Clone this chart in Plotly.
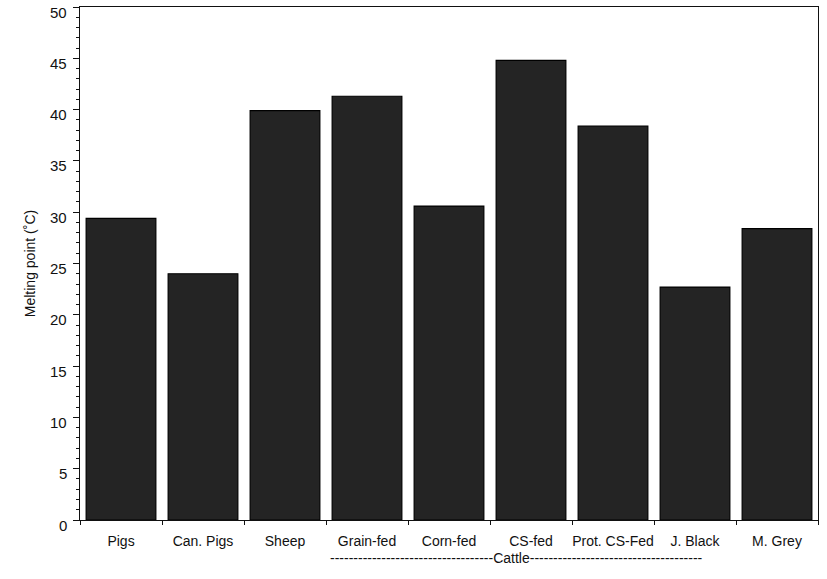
import plotly.graph_objects as go

categories = ["Pigs", "Can. Pigs", "Sheep", "Grain-fed", "Corn-fed", "CS-fed",
              "Prot. CS-Fed", "J. Black", "M. Grey"]
melting_point = [29.4, 24.0, 39.9, 41.3, 30.6, 44.8, 38.4, 22.7, 28.4]
y_ticks = [0, 5, 10, 15, 20, 25, 30, 35, 40, 45, 50]
group_label = "-" * 35 + "Cattle" + "-" * 37

fig = go.Figure()
fig.add_trace(go.Bar(
    x=categories, y=melting_point,
    marker=dict(color="#242424", line=dict(color="#000000", width=1.2)),
))

font = "Liberation Sans, Arial, sans-serif"
annotations = [dict(
    text=group_label, x=4.75, y=-0.074, xref="x", yref="paper", xshift=6,
    showarrow=False, font=dict(size=14, family=font), xanchor="center", yanchor="middle",
)]
for v in y_ticks:
    annotations.append(dict(
        text=str(v), x=0, y=v, xref="paper", yref="y", xshift=-11, yshift=-5,
        showarrow=False, font=dict(size=15, family=font),
        xanchor="right", yanchor="middle",
    ))

fig.update_layout(
    width=827, height=579,
    margin=dict(l=80, r=9, t=7, b=59, autoexpand=False),
    paper_bgcolor="white", plot_bgcolor="white",
    bargap=0.15, showlegend=False,
    font=dict(family=font, color="#111111", size=14),
    xaxis=dict(
        type="category", tickson="boundaries", ticks="outside", ticklen=4,
        tickangle=0, automargin=False, ticklabelstandoff=8,
        tickcolor="#111", showline=True, linecolor="#111", linewidth=1.2,
        mirror=True, showgrid=False, tickfont=dict(size=14, family=font),
    ),
    yaxis=dict(
        range=[0, 50], tickmode="array", tickvals=y_ticks, automargin=False,
        ticks="outside", ticklen=6, tickcolor="#111", showticklabels=False,
        showline=True, linecolor="#111", linewidth=1.2, mirror=True,
        showgrid=False, zeroline=False,
        minor=dict(dtick=1, ticks="outside", ticklen=3, tickcolor="#111", showgrid=False),
        title=dict(text="Melting point (˚C)", font=dict(size=14, family=font), standoff=34),
    ),
    annotations=annotations,
)

fig.write_html("out.html")
